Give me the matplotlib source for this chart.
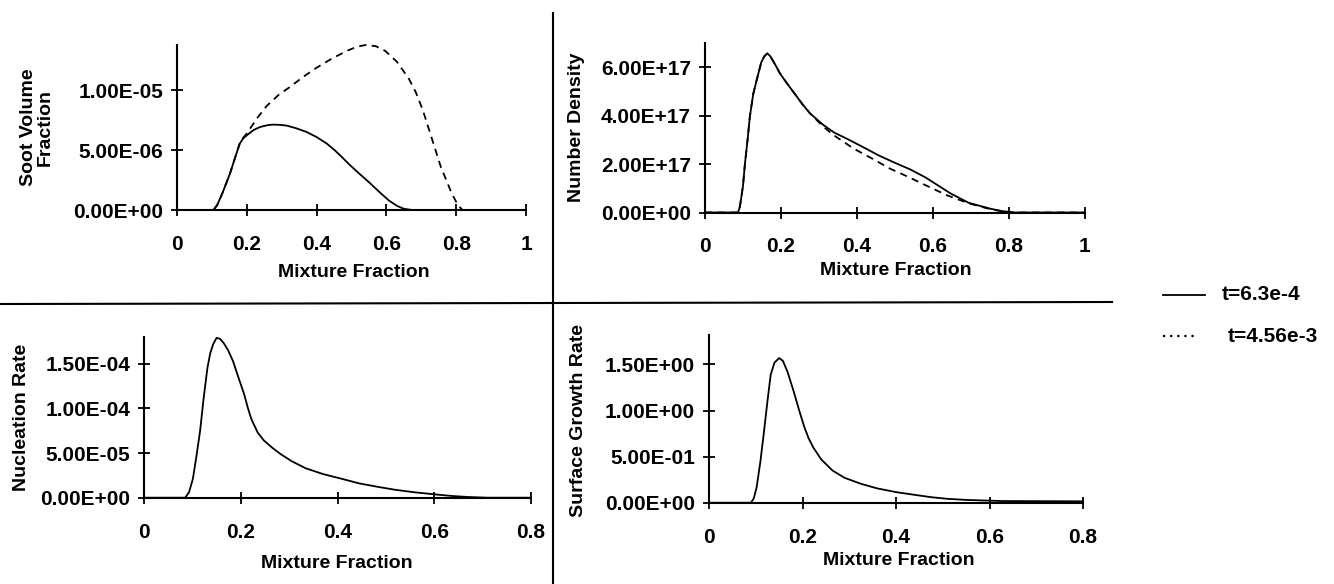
import matplotlib
matplotlib.use('Agg')
import matplotlib.pyplot as plt
from matplotlib.lines import Line2D
from matplotlib.ticker import FuncFormatter

plt.rcParams['font.family'] = ['Liberation Sans', 'DejaVu Sans']
plt.rcParams['font.weight'] = 'bold'
plt.rcParams['axes.labelweight'] = 'bold'
plt.rcParams['font.size'] = 14

# soot volume fraction vs mixture fraction
sv_x1 = [0.0, 0.104, 0.115, 0.13, 0.152, 0.17, 0.18, 0.19, 0.2, 0.22, 0.238, 0.26, 0.276,
         0.295, 0.314, 0.34, 0.371, 0.4, 0.429, 0.45, 0.472, 0.494, 0.52, 0.551, 0.58,
         0.607, 0.63, 0.65, 0.674, 1.0]
sv_y1 = [0.0, 0.0, 0.4e-6, 1.4e-6, 3.06e-6, 4.7e-6, 5.56e-6, 6.0e-6, 6.25e-6, 6.7e-6,
         6.94e-6, 7.1e-6, 7.14e-6, 7.12e-6, 7.06e-6, 6.85e-6, 6.53e-6, 6.1e-6, 5.56e-6,
         5.05e-6, 4.44e-6, 3.8e-6, 3.1e-6, 2.3e-6, 1.5e-6, 0.8e-6, 0.35e-6, 0.1e-6, 0.0, 0.0]
sv_x2 = [0.0, 0.104, 0.115, 0.13, 0.152, 0.17, 0.18, 0.19, 0.2, 0.23, 0.257, 0.29, 0.324,
         0.36, 0.4, 0.44, 0.486, 0.515, 0.54, 0.57, 0.597, 0.63, 0.664, 0.685, 0.705, 0.73,
         0.756, 0.787, 0.805, 0.818, 1.0]
sv_y2 = [0.0, 0.0, 0.4e-6, 1.4e-6, 3.06e-6, 4.7e-6, 5.6e-6, 6.05e-6, 6.4e-6, 7.7e-6,
         8.7e-6, 9.6e-6, 1.03e-5, 1.11e-5, 1.19e-5, 1.26e-5, 1.33e-5, 1.365e-5, 1.38e-5,
         1.37e-5, 1.33e-5, 1.24e-5, 1.1e-5, 9.8e-6, 8.3e-6, 6.0e-6, 3.6e-6, 1.4e-6, 0.4e-6,
         0.0, 0.0]

# number density
nd_x1 = [0.0, 0.087, 0.092, 0.1, 0.105, 0.112, 0.118, 0.127, 0.136, 0.148, 0.156, 0.164,
         0.172, 0.185, 0.197, 0.215, 0.232, 0.255, 0.276, 0.311, 0.34, 0.373, 0.41, 0.458,
         0.5, 0.54, 0.58, 0.615, 0.647, 0.694, 0.75, 0.78, 0.816, 1.0]
nd_y1 = [0.0, 0.0, 0.25e17, 1.1e17, 2.0e17, 3.0e17, 3.96e17, 4.9e17, 5.47e17, 6.2e17,
         6.45e17, 6.57e17, 6.45e17, 6.1e17, 5.75e17, 5.35e17, 4.99e17, 4.5e17, 4.1e17,
         3.62e17, 3.3e17, 3.05e17, 2.75e17, 2.35e17, 2.05e17, 1.78e17, 1.45e17, 1.1e17,
         0.78e17, 0.4e17, 0.16e17, 0.06e17, 0.0, 0.0]
nd_x2 = [0.0, 0.087, 0.092, 0.1, 0.105, 0.112, 0.118, 0.127, 0.136, 0.148, 0.156, 0.164,
         0.172, 0.185, 0.197, 0.215, 0.232, 0.255, 0.276, 0.311, 0.338, 0.39, 0.443, 0.487,
         0.535, 0.58, 0.637, 0.694, 0.75, 0.8, 1.0]
nd_y2 = [0.0, 0.0, 0.25e17, 1.1e17, 2.0e17, 3.0e17, 3.96e17, 4.9e17, 5.47e17, 6.2e17,
         6.45e17, 6.57e17, 6.45e17, 6.1e17, 5.75e17, 5.35e17, 4.99e17, 4.5e17, 4.1e17,
         3.55e17, 3.2e17, 2.65e17, 2.2e17, 1.81e17, 1.47e17, 1.13e17, 0.71e17, 0.38e17,
         0.14e17, 0.0, 0.0]

# nucleation rate
nr_x = [0.0, 0.085, 0.093, 0.101, 0.108, 0.116, 0.123, 0.131, 0.137, 0.143, 0.15, 0.157,
        0.165, 0.174, 0.184, 0.195, 0.207, 0.215, 0.222, 0.235, 0.248, 0.265, 0.282, 0.305,
        0.334, 0.37, 0.41, 0.445, 0.485, 0.52, 0.56, 0.6, 0.635, 0.67, 0.71, 0.8]
nr_y = [0.0, 0.0, 0.6e-5, 2.1e-5, 4.5e-5, 7.5e-5, 1.1e-4, 1.45e-4, 1.62e-4, 1.72e-4,
        1.79e-4, 1.78e-4, 1.73e-4, 1.65e-4, 1.53e-4, 1.35e-4, 1.16e-4, 1.0e-4, 8.8e-5,
        7.3e-5, 6.4e-5, 5.6e-5, 4.9e-5, 4.1e-5, 3.3e-5, 2.65e-5, 2.1e-5, 1.6e-5, 1.2e-5,
        8.8e-6, 6e-6, 3.8e-6, 2e-6, 0.8e-6, 0.0, 0.0]

# surface growth rate
sg_x = [0.0, 0.09, 0.096, 0.102, 0.11, 0.117, 0.125, 0.132, 0.14, 0.15, 0.158, 0.168,
        0.181, 0.193, 0.204, 0.213, 0.223, 0.24, 0.264, 0.29, 0.325, 0.36, 0.4, 0.44,
        0.475, 0.51, 0.551, 0.627, 0.8]
sg_y = [0.0, 0.0, 0.05, 0.17, 0.45, 0.745, 1.1, 1.39, 1.52, 1.57, 1.54, 1.42, 1.21, 1.0,
        0.82, 0.7, 0.6, 0.47, 0.35, 0.27, 0.205, 0.155, 0.115, 0.085, 0.06, 0.042, 0.03,
        0.018, 0.015]

legend_labels = ['t=6.3e-4', 't=4.56e-3']

W, H = 1334, 584
fig = plt.figure(figsize=(W / 100, H / 100), dpi=100)


def px_axes(left, right, top, bottom):
    return fig.add_axes([left / W, 1 - bottom / H, (right - left) / W, (bottom - top) / H])


def style(ax, xmax, ymax, yticks, xlabel, ylabel, xl_pos, yl_pos):
    for s in ['top', 'right']:
        ax.spines[s].set_visible(False)
    for s in ['left', 'bottom']:
        ax.spines[s].set_linewidth(1.5)
    ax.set_xlim(0, xmax)
    ax.set_ylim(0, ymax)
    ax.set_xticks([i * 0.2 for i in range(int(round(xmax / 0.2)) + 1)])
    ax.set_yticks(yticks)
    ax.xaxis.set_major_formatter(FuncFormatter(lambda v, p: f'{v:g}'))
    ax.yaxis.set_major_formatter(FuncFormatter(lambda v, p: f'{v:.2E}'))
    ax.tick_params(direction='inout', length=8, width=1.3, labelsize=15)
    ax.tick_params(axis='x', pad=14)
    ax.tick_params(axis='y', pad=6)
    ax.set_xlabel(xlabel, fontsize=14)
    ax.set_ylabel(ylabel, fontsize=14, linespacing=1.0)
    ax.xaxis.set_label_coords(*xl_pos)
    ax.yaxis.set_label_coords(*yl_pos)
    ax.patch.set_visible(False)


dash = (0, (4, 3))
lw = 1.3

ax1 = px_axes(177, 526, 45, 210)
ax1.plot(sv_x1, sv_y1, color='k', lw=lw, clip_on=False)
ax1.plot(sv_x2, sv_y2, color='k', lw=lw, ls=dash, clip_on=False)
style(ax1, 1.0, 1.38e-5, [0, 5e-6, 1e-5], 'Mixture Fraction', 'Soot Volume\nFraction',
      (0.507, -0.327), (-0.352, 0.5))

ax2 = px_axes(705, 1085, 43, 212.5)
ax2.plot(nd_x1, nd_y1, color='k', lw=lw, clip_on=False)
ax2.plot(nd_x2, nd_y2, color='k', lw=lw, ls=dash, clip_on=False)
style(ax2, 1.0, 7e17, [0, 2e17, 4e17, 6e17], 'Mixture Fraction', 'Number Density',
      (0.503, -0.292), (-0.316, 0.5))

ax3 = px_axes(144, 531, 337, 497.7)
ax3.plot(nr_x, nr_y, color='k', lw=lw, clip_on=False)
style(ax3, 0.8, 1.8e-4, [0, 5e-5, 1e-4, 1.5e-4], 'Mixture Fraction', 'Nucleation Rate',
      (0.499, -0.357), (-0.295, 0.5))

ax4 = px_axes(709, 1083, 335, 502.7)
ax4.plot(sg_x, sg_y, color='k', lw=lw, clip_on=False)
style(ax4, 0.8, 1.82, [0, 0.5, 1.0, 1.5], 'Mixture Fraction', 'Surface Growth Rate',
      (0.507, -0.294), (-0.326, 0.49))

# panel separators
fig.add_artist(Line2D([0, 1112 / W], [1 - 304 / H, 1 - 302 / H], transform=fig.transFigure,
                      color='k', lw=1.5))
fig.add_artist(Line2D([553 / W, 553 / W], [0, 1 - 13 / H], transform=fig.transFigure,
                      color='k', lw=1.5))

# legend drawn by hand to the right of the panels
fig.add_artist(Line2D([1163 / W, 1205 / W], [1 - 295 / H] * 2, transform=fig.transFigure,
                      color='k', lw=1.3))
fig.add_artist(Line2D([1163 / W, 1198 / W], [1 - 336 / H] * 2, transform=fig.transFigure,
                      color='k', lw=1.6, ls=(0, (1, 2.2))))
fig.text(1222 / W, 1 - 295 / H, legend_labels[0], va='center', ha='left', fontsize=15)
fig.text(1228 / W, 1 - 336 / H, legend_labels[1], va='center', ha='left', fontsize=15)

fig.savefig('out.png', dpi=100)
